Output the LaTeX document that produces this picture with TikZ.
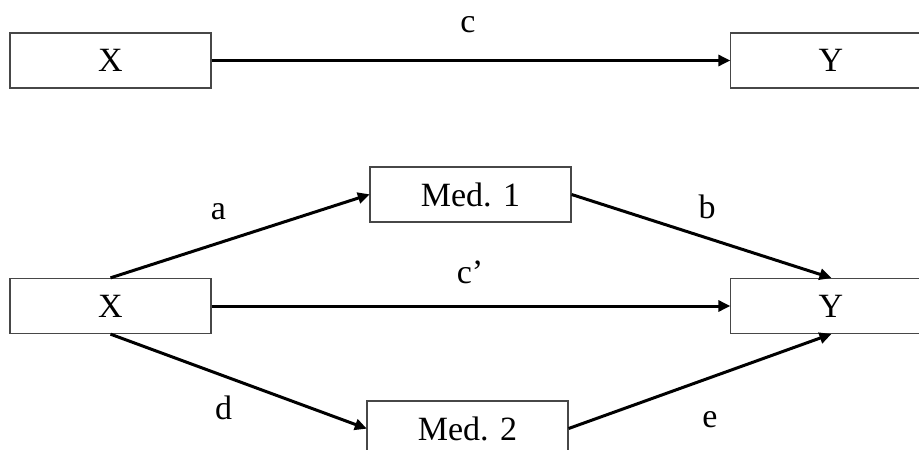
\documentclass[tikz,border=0pt]{standalone}
\usepackage{fontspec}
\setmainfont{Liberation Serif}
\usetikzlibrary{arrows.meta}
\begin{document}
\begin{tikzpicture}[x=1pt,y=-1pt,
  box/.style={draw=black!72, line width=1.3pt, fill=white, minimum width=201pt, minimum height=55pt, inner sep=0pt, font=\fontsize{34}{40}\selectfont},
  lbl/.style={anchor=base, inner sep=0pt, font=\fontsize{34}{40}\selectfont},
  arr/.style={line width=3pt, -{Triangle[length=12pt,width=11pt]}, shorten >=-0.5pt}]
\useasboundingbox (0,0) rectangle (919,450);
\clip (0,0) rectangle (919,450);
% top
\node[box] (X1) at (110.5,60.5) {X};
\node[box] (Y1) at (831,60.5) {Y};
\draw[arr] (X1.east) -- (Y1.west);
\node[lbl] (lc) at (468,32) {c};
% bottom
\node[box] (X2) at (110.5,306) {X};
\node[box] (Y2) at (831,306) {Y};
\node[box] (M1) at (470.5,194.5) {Med. 1};
\node[box] (M2) at (467.5,428.5) {Med. 2};
\draw[arr] (X2.east) -- (Y2.west);
\draw[arr] (X2.north) -- (M1.west);
\draw[arr] (M1.east) -- (Y2.north);
\draw[arr] (X2.south) -- (M2.west);
\draw[arr] (M2.east) -- (Y2.south);
\node[lbl] (la) at (218.5,219) {a};
\node[lbl] (lb) at (707,218) {b};
\node[lbl] (lcp) at (470,283) {c’};
\node[lbl] (ld) at (223.5,419) {d};
\node[lbl] (le) at (710,427) {e};
\end{tikzpicture}
\end{document}
